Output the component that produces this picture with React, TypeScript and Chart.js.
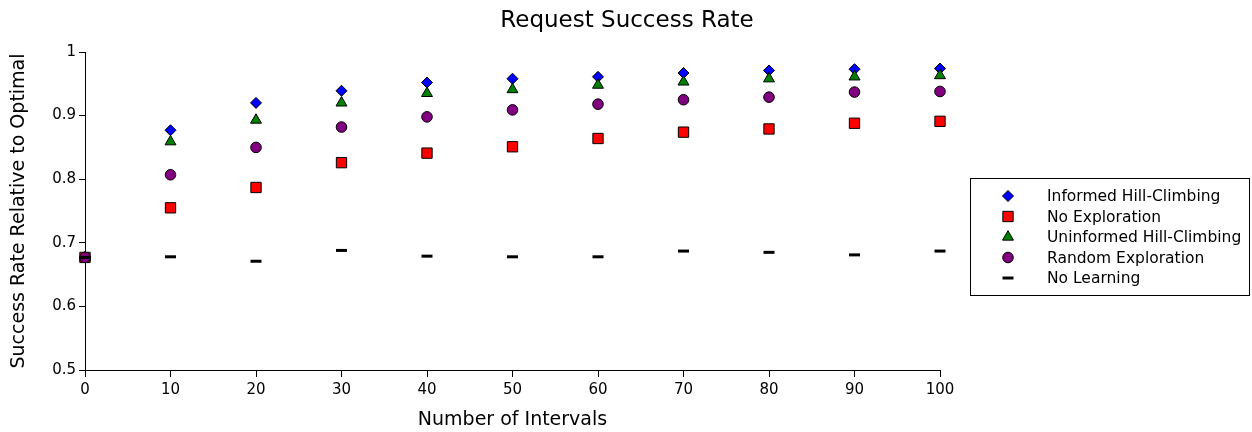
import React, { useEffect, useRef } from "react";
import { Chart, registerables } from "chart.js";
import { drawPoint } from "chart.js/helpers";

Chart.register(...registerables);

const intervals = [0, 10, 20, 30, 40, 50, 60, 70, 80, 90, 100];
const informedHill = [0.677, 0.877, 0.920, 0.939, 0.952, 0.958, 0.961, 0.967, 0.971, 0.973, 0.974];
const noExploration = [0.677, 0.755, 0.787, 0.826, 0.841, 0.851, 0.864, 0.874, 0.879, 0.888, 0.891];
const uninformedHill = [0.677, 0.859, 0.893, 0.920, 0.935, 0.941, 0.948, 0.953, 0.958, 0.961, 0.963];
const randomExploration = [0.677, 0.807, 0.850, 0.882, 0.898, 0.909, 0.918, 0.925, 0.929, 0.937, 0.938];
const noLearning = [0.677, 0.678, 0.671, 0.688, 0.679, 0.678, 0.678, 0.687, 0.685, 0.681, 0.687];

const FONT = "'DejaVu Sans', sans-serif";

const toXY = (vals: number[]) => vals.map((v, i) => ({ x: intervals[i], y: v }));

export default function App() {
  const ref = useRef<HTMLCanvasElement | null>(null);

  useEffect(() => {
    document.body.style.margin = "0";
    const canvas = ref.current!;
    const legendPlugin = {
      id: "customLegendTitle",
      afterDraw(chart: any) {
        const ctx = chart.ctx;
        ctx.save();
        // title
        ctx.fillStyle = "#000";
        ctx.font = `23px ${FONT}`;
        ctx.textAlign = "center";
        ctx.textBaseline = "middle";
        ctx.fillText("Request Success Rate", 627, 21);
        // legend box
        ctx.strokeStyle = "#000";
        ctx.lineWidth = 1;
        ctx.strokeRect(970.5, 178.5, 279, 117);
        ctx.font = `15.5px ${FONT}`;
        ctx.textAlign = "left";
        chart.data.datasets.forEach((ds: any, i: number) => {
          const y = 196 + i * 20.5;
          ctx.fillStyle = ds.backgroundColor;
          ctx.strokeStyle = ds.borderColor;
          ctx.lineWidth = ds.borderWidth;
          drawPoint(ctx, { pointStyle: ds.pointStyle, radius: ds.pointRadius, borderWidth: ds.borderWidth, rotation: 0 }, 1008, y);
          ctx.fillStyle = "#000";
          ctx.fillText(ds.label, 1047, y + 1);
        });
        ctx.restore();
      },
    };

    const chart = new Chart(canvas, {
      type: "scatter",
      data: {
        datasets: [
          { label: "Informed Hill-Climbing", data: toXY(informedHill), pointStyle: "rectRot", pointRadius: 5.5, backgroundColor: "#0000ff", borderColor: "#000", borderWidth: 1, order: 5, clip: false },
          { label: "No Exploration", data: toXY(noExploration), pointStyle: "rect", pointRadius: 7.3, backgroundColor: "#ff0000", borderColor: "#000", borderWidth: 1, order: 4, clip: false },
          { label: "Uninformed Hill-Climbing", data: toXY(uninformedHill), pointStyle: "triangle", pointRadius: 6.3, backgroundColor: "#008000", borderColor: "#000", borderWidth: 1, order: 3, clip: false },
          { label: "Random Exploration", data: toXY(randomExploration), pointStyle: "circle", pointRadius: 5.3, backgroundColor: "#800080", borderColor: "#000", borderWidth: 1, order: 2, clip: false },
          { label: "No Learning", data: toXY(noLearning), pointStyle: "line", pointRadius: 5.5, backgroundColor: "#000", borderColor: "#000", borderWidth: 3, order: 1, clip: false },
        ] as any,
      },
      options: {
        responsive: false,
        animation: false,
        layout: { padding: { top: 52, right: 312, left: 0, bottom: 0 } },
        plugins: {
          legend: { display: false },
          title: { display: false },
          tooltip: { enabled: false },
        },
        scales: {
          x: {
            type: "linear",
            min: 0,
            max: 100,
            afterFit: (s: any) => { s.height = 62; },
            ticks: { stepSize: 10, color: "#000", font: { family: FONT, size: 15 }, padding: 4, maxRotation: 0 },
            grid: { drawOnChartArea: false, drawTicks: true, tickLength: 7, color: "#000" },
            border: { display: true, color: "#000", width: 1 },
            title: { display: true, text: "Number of Intervals", color: "#000", font: { family: FONT, size: 19 }, padding: { top: 4, bottom: 1 } },
          },
          y: {
            type: "linear",
            min: 0.5,
            max: 1,
            afterFit: (s: any) => { s.width = 85; },
            ticks: {
              stepSize: 0.1,
              color: "#000",
              font: { family: FONT, size: 15 },
              padding: 3,
              callback: (v: any) => String(Number(Number(v).toFixed(1))),
            },
            grid: { drawOnChartArea: false, drawTicks: true, tickLength: 6, color: "#000" },
            border: { display: true, color: "#000", width: 1 },
            title: { display: true, text: "Success Rate Relative to Optimal", color: "#000", font: { family: FONT, size: 19 }, padding: { top: 8, bottom: 4 } },
          },
        },
      } as any,
      plugins: [legendPlugin],
    });
    return () => chart.destroy();
  }, []);

  return (
    <div style={{ width: 1252, height: 432 }}>
      <canvas ref={ref} width={1252} height={432} style={{ display: "block" }} />
    </div>
  );
}
